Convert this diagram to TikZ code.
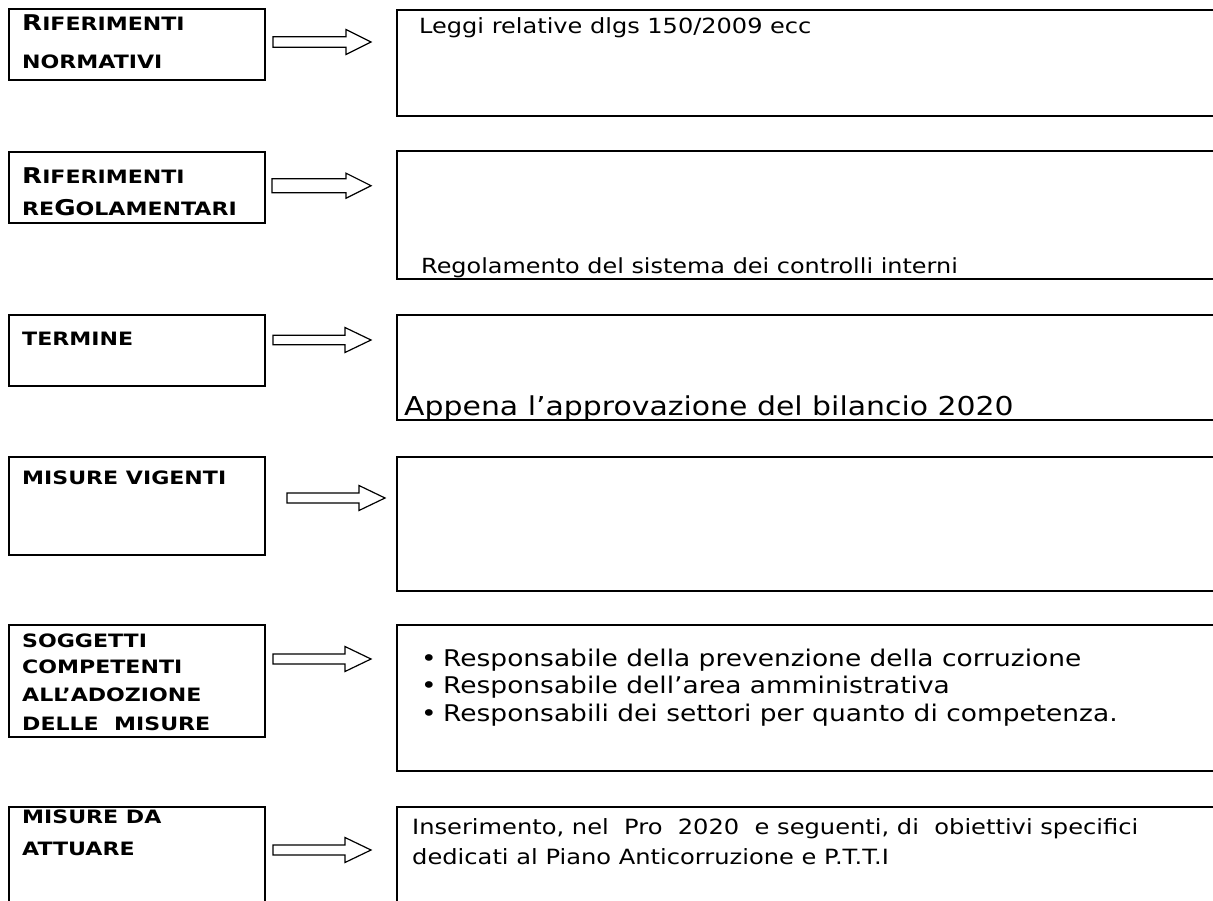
\documentclass[tikz,border=0pt]{standalone}
\usepackage{fontspec}
\setmainfont{DejaVu Sans}[FakeStretch=1.15]
\newfontfamily\lblfont{DejaVu Sans}[FakeStretch=1.2]
\newcommand\fsz[1]{\fontsize{#1}{#1}\selectfont}
\newcommand\blockarrow[6]{%
  \draw[barrow] (#1,{#4-#5}) -- (#2,{#4-#5}) -- (#2,{#4-#6}) -- (#3,#4) -- (#2,{#4+#6}) -- (#2,{#4+#5}) -- (#1,{#4+#5}) -- cycle;}
\tikzset{
  box/.style={draw, line width=2.4pt, inner sep=0pt, anchor=north west},
  barrow/.style={draw, line width=1.2pt, fill=white, line join=miter},
  lab/.style={anchor=base west, inner sep=0pt, font=\lblfont\bfseries\fsz{18.4}},
  txt/.style={anchor=base west, inner sep=0pt, font=\fsz{20.8}},
  btxt/.style={anchor=base west, inner sep=0pt, font=\fsz{23}},
}
\begin{document}
\begin{tikzpicture}[x=1pt,y=-1pt]
\useasboundingbox (0,0) rectangle (1213,900);
\clip (0,0) rectangle (1213,900);
\fill[white] (0,0) rectangle (1213,900);
% left boxes
\node[box, minimum width=256pt, minimum height=71pt] (L1) at (8,8) {};
\node[box, minimum width=256pt, minimum height=71pt] (L2) at (8,151) {};
\node[box, minimum width=256pt, minimum height=71pt] (L3) at (8,314) {};
\node[box, minimum width=256pt, minimum height=98pt] (L4) at (8,456) {};
\node[box, minimum width=256pt, minimum height=112pt] (L5) at (8,624) {};
\node[box, minimum width=256pt, minimum height=120pt] (L6) at (8,806) {};
% right boxes
\node[box, minimum width=840pt, minimum height=106pt] (R1) at (396,9) {};
\node[box, minimum width=840pt, minimum height=128pt] (R2) at (396,150) {};
\node[box, minimum width=840pt, minimum height=105pt] (R3) at (396,314) {};
\node[box, minimum width=840pt, minimum height=134pt] (R4) at (396,456) {};
\node[box, minimum width=840pt, minimum height=146pt] (R5) at (396,624) {};
\node[box, minimum width=840pt, minimum height=120pt] (R6) at (396,806) {};
% arrows
\blockarrow{273}{346}{371}{42}{5.3}{12.5}
\blockarrow{272}{346}{371}{185.7}{7}{12.5}
\blockarrow{273}{345}{371}{340}{4.7}{12.5}
\blockarrow{287}{359}{385}{498}{5}{12.5}
\blockarrow{273}{345}{371}{659}{5}{12.5}
\blockarrow{273}{345}{371}{850}{5}{12.5}
% left labels
\node[lab] (l1a) at (22,30) {{\fsz{21.7}R}IFERIMENTI};
\node[lab] (l1b) at (22,68) {NORMATIVI};
\node[lab] (l2a) at (22,183) {{\fsz{21.7}R}IFERIMENTI};
\node[lab] (l2b) at (22,215) {RE{\fsz{21.7}G}OLAMENTARI};
\node[lab] (l3a) at (22,345) {TERMINE};
\node[lab] (l4a) at (22,484) {MISURE VIGENTI};
\node[lab] (l5a) at (22,647) {SOGGETTI};
\node[lab] (l5b) at (22,673) {COMPETENTI};
\node[lab] (l5c) at (22,701) {ALL’ADOZIONE};
\node[lab] (l5d) at (22,730) {DELLE\ \ MISURE};
\node[lab] (l6a) at (22,823) {MISURE DA};
\node[lab] (l6b) at (22,855) {ATTUARE};
% right texts
\node[txt, font=\fsz{20.9}] (r1) at (419,33.5) {Leggi relative dlgs 150/2009 ecc};
\node[txt] (r2) at (421,273) {Regolamento del sistema dei controlli interni};
\node[txt, font=\fsz{26}] (r3) at (404,415) {Appena l’approvazione del bilancio 2020};
\node[btxt] (b1) at (421,666) {•};
\node[btxt] (b2) at (421,693) {•};
\node[btxt] (b3) at (421,721) {•};
\node[btxt] (r5a) at (443,666) {Responsabile della prevenzione della corruzione};
\node[btxt] (r5b) at (443,693) {Responsabile dell’area amministrativa};
\node[btxt] (r5c) at (443,721) {Responsabili dei settori per quanto di competenza.};
\node[txt, font=\fsz{21}] (r6a) at (412,834) {Inserimento, nel\ \ Pro\ \ 2020\ \ e seguenti, di\ \ obiettivi specifici};
\node[txt, font=\fsz{21}] (r6b) at (412,864) {dedicati al Piano Anticorruzione e P.T.T.I};
\end{tikzpicture}
\end{document}
